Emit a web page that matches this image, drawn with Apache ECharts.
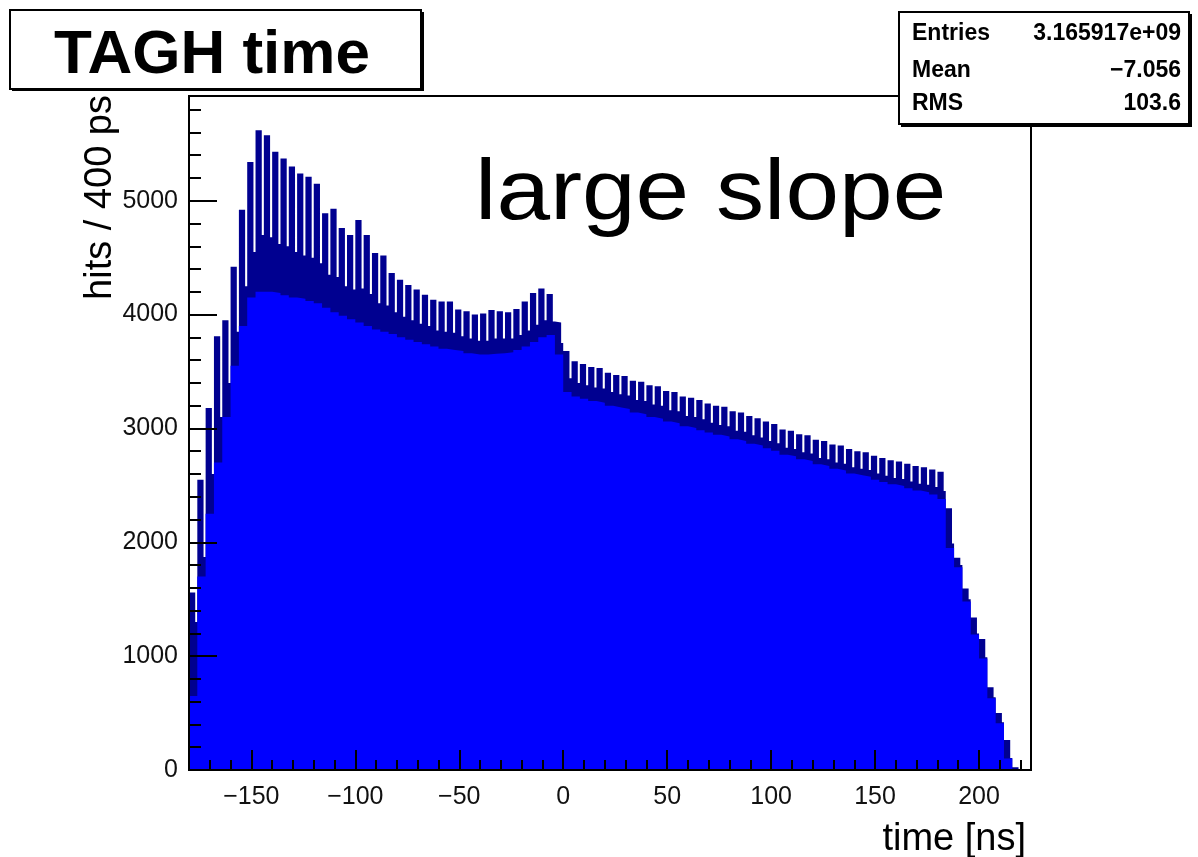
<!DOCTYPE html>
<html>
<head>
<meta charset="utf-8">
<script src="https://cdn.jsdelivr.net/npm/echarts/dist/echarts.min.js"></script>
<style>
  html, body { margin: 0; padding: 0; background: #fff; }
  #main { width: 1198px; height: 857px; }
</style>
</head>
<body>
<div id="main"></div>
<script>
// histogram, one entry per 4 ns bunch period starting at -180 ns
// peak = top of the dark spike, dip = bottom of the white gap, base = top of the light fill
var startTime = -180;
var period = 4;
var gapWidth = 1;

var peak = [1560, 2550, 3180, 3810, 3950, 4420, 4920, 5340, 5620, 5575,
	5430, 5370, 5300, 5240, 5210, 5150, 4890, 4930, 4760, 4700,
	4830, 4700, 4540, 4520, 4365, 4305, 4260, 4220, 4175, 4130,
	4115, 4115, 4045, 4030, 4000, 4010, 4040, 4030, 4020, 4050,
	4115, 4190, 4230, 4180, 3930, 3680, 3590, 3565, 3540, 3530,
	3490, 3470, 3460, 3420, 3410, 3380, 3370, 3330, 3320, 3280,
	3270, 3250, 3220, 3200, 3190, 3150, 3140, 3110, 3090, 3060,
	3040, 2990, 2980, 2950, 2940, 2900, 2890, 2860, 2850, 2820,
	2800, 2790, 2760, 2740, 2720, 2710, 2690, 2670, 2660, 2640,
	2620, 2300, 1865, 1594, 1340, 1150, 727, 500, 263, 25];

var dip = [1300, 1870, 2600, 3100, 3400, 3850, 4250, 4550, 4700, 4680,
	4620, 4600, 4550, 4520, 4500, 4450, 4350, 4330, 4250, 4220,
	4230, 4180, 4100, 4080, 4020, 3980, 3950, 3920, 3900, 3860,
	3850, 3840, 3810, 3790, 3770, 3770, 3790, 3790, 3790, 3820,
	3860, 3910, 3950, 3940, 3750, 3440, 3400, 3380, 3360, 3350,
	3320, 3300, 3290, 3250, 3240, 3210, 3200, 3160, 3150, 3110,
	3100, 3080, 3050, 3030, 3020, 2980, 2970, 2940, 2920, 2890,
	2870, 2830, 2820, 2790, 2780, 2740, 2730, 2700, 2690, 2660,
	2645, 2635, 2605, 2585, 2565, 2555, 2535, 2515, 2505, 2485,
	2450, 1990, 1800, 1500, 1200, 990, 640, 420, 105, 0];

var base = [650, 1700, 2250, 2700, 3100, 3550, 3900, 4150, 4200, 4200,
	4190, 4170, 4150, 4140, 4120, 4100, 4060, 4020, 3990, 3960,
	3930, 3900, 3870, 3850, 3830, 3800, 3780, 3760, 3740, 3720,
	3700, 3690, 3680, 3660, 3650, 3650, 3655, 3660, 3670, 3690,
	3720, 3760, 3800, 3820, 3650, 3320, 3280, 3260, 3240, 3225,
	3200, 3185, 3170, 3140, 3125, 3100, 3085, 3060, 3045, 3020,
	3005, 2985, 2965, 2945, 2930, 2905, 2890, 2865, 2850, 2825,
	2805, 2770, 2755, 2730, 2715, 2685, 2670, 2645, 2630, 2605,
	2590, 2575, 2550, 2530, 2510, 2495, 2475, 2455, 2440, 2420,
	2380, 1950, 1780, 1480, 1190, 980, 630, 410, 100, 0];

var xMajor = [-150, -100, -50, 0, 50, 100, 150, 200];
var xMinor = [-170, -160, -140, -130, -120, -110, -90, -80, -70, -60,
	-40, -30, -20, -10, 10, 20, 30, 40, 60, 70, 80, 90,
	110, 120, 130, 140, 160, 170, 180, 190, 210, 220];
var yMajor = [0, 1000, 2000, 3000, 4000, 5000];
var yMinor = [200, 400, 600, 800, 1200, 1400, 1600, 1800, 2200, 2400, 2600, 2800,
	3200, 3400, 3600, 3800, 4200, 4400, 4600, 4800, 5200, 5400, 5600, 5800];

var stats = [
	[ 'Entries', '3.165917e+09' ],
	[ 'Mean', '\u22127.056' ],
	[ 'RMS', '103.6' ]
];

var font = '"Liberation Sans", Arial, Helvetica, sans-serif';
var navy = '#000090';
var blue = '#0000ff';

function combData() {
	var out = [];
	for (var k = 0; k < peak.length; k++) {
		var t = startTime + period * k;
		out.push([ t, peak[k] ]);
		out.push([ t + period - gapWidth, dip[k] ]);
	}
	out.push([ startTime + period * peak.length, 0 ]);
	return out;
}

function baseData() {
	var out = [];
	for (var k = 0; k < base.length; k++) {
		out.push([ startTime + period * k, base[k] ]);
	}
	out.push([ startTime + period * base.length, 0 ]);
	return out;
}

function statsText() {
	var els = [];
	var rowY = [ 34, 71, 104 ];
	for (var i = 0; i < stats.length; i++) {
		els.push({
			type : 'text', x : 912, y : rowY[i], z : 101,
			style : { text : stats[i][0], fill : '#000', fontFamily : font, fontSize : 23,
				fontWeight : 'bold', align : 'left', verticalAlign : 'middle' }
		});
		els.push({
			type : 'text', x : 1181, y : rowY[i], z : 101,
			style : { text : stats[i][1], fill : '#000', fontFamily : font, fontSize : 23,
				fontWeight : 'bold', align : 'right', verticalAlign : 'middle' }
		});
	}
	return els;
}

function tickAxis(min, max, values, len, dir) {
	// extra axis that only carries the short minor ticks
	var ax = {
		type : 'value',
		min : min,
		max : max,
		z : 10,
		axisLine : { show : false, onZero : false },
		axisTick : { show : true, inside : true, length : len, customValues : values,
			lineStyle : { color : '#000', width : 2 } },
		axisLabel : { show : false },
		splitLine : { show : false }
	};
	ax.position = dir;
	return ax;
}

var chart = echarts.init(document.getElementById('main'));

var option = {
	animation : false,
	backgroundColor : '#fff',
	grid : {
		left : 189,
		right : 167,
		top : 96,
		bottom : 87,
		show : true,
		borderColor : '#000',
		borderWidth : 2
	},
	xAxis : [ {
		type : 'value',
		min : -180,
		max : 225,
		position : 'bottom',
		z : 10,
		axisLine : { show : true, onZero : false, lineStyle : { color : '#000', width : 2 } },
		axisTick : { show : true, inside : true, length : 20, customValues : xMajor,
			lineStyle : { color : '#000', width : 2 } },
		axisLabel : {
			customValues : xMajor,
			margin : 15,
			color : '#111',
			fontFamily : font,
			fontSize : 25,
			formatter : function(v) {
				return String(v).replace('-', '\u2212');
			}
		},
		splitLine : { show : false }
	}, tickAxis(-180, 225, xMinor, 10, 'bottom') ],
	yAxis : [ {
		type : 'value',
		min : 0,
		max : 5920,
		position : 'left',
		z : 10,
		axisLine : { show : true, onZero : false, lineStyle : { color : '#000', width : 2 } },
		axisTick : { show : true, inside : true, length : 28, customValues : yMajor,
			lineStyle : { color : '#000', width : 2 } },
		axisLabel : {
			customValues : yMajor,
			margin : 11,
			color : '#111',
			fontFamily : font,
			fontSize : 25,
			formatter : function(v) {
				return String(v);
			}
		},
		splitLine : { show : false }
	}, tickAxis(0, 5920, yMinor, 12, 'left') ],
	series : [ {
		type : 'line',
		name : 'comb',
		step : 'end',
		symbol : 'none',
		data : combData(),
		lineStyle : { width : 0, color : navy },
		areaStyle : { color : navy, opacity : 1 },
		z : 2
	}, {
		type : 'line',
		name : 'fill',
		step : 'end',
		symbol : 'none',
		data : baseData(),
		lineStyle : { width : 0, color : blue },
		areaStyle : { color : blue, opacity : 1 },
		z : 3
	} ],
	graphic : [ {
		type : 'polyline', z : 99,
		shape : { points : [ [ 12, 90 ], [ 423, 90 ], [ 423, 12 ] ] },
		style : { stroke : '#000', lineWidth : 2, fill : null }
	}, {
		type : 'rect', z : 100,
		shape : { x : 10, y : 10, width : 411, height : 79 },
		style : { fill : '#fff', stroke : '#000', lineWidth : 2 }
	}, {
		type : 'text', x : 212, y : 56, z : 101,
		style : { text : 'TAGH time', fill : '#000', fontFamily : font, fontSize : 62,
			fontWeight : 'bold', align : 'center', verticalAlign : 'middle' }
	}, {
		type : 'polyline', z : 99,
		shape : { points : [ [ 901, 126 ], [ 1191, 126 ], [ 1191, 14 ] ] },
		style : { stroke : '#000', lineWidth : 2, fill : null }
	}, {
		type : 'rect', z : 100,
		shape : { x : 899, y : 12, width : 290, height : 112 },
		style : { fill : '#fff', stroke : '#000', lineWidth : 2 }
	}, {
		type : 'text', x : 475, y : 195, z : 101, scaleX : 1.12,
		style : { text : 'large slope', fill : '#000', fontFamily : font,
			fontSize : 86, align : 'left', verticalAlign : 'middle' }
	}, {
		type : 'text', x : 101, y : 95, z : 101, rotation : Math.PI / 2,
		style : { text : 'hits / 400 ps', fill : '#000', fontFamily : font, fontSize : 38,
			align : 'right', verticalAlign : 'middle' }
	}, {
		type : 'text', x : 1026, y : 840, z : 101,
		style : { text : 'time [ns]', fill : '#000', fontFamily : font, fontSize : 38,
			align : 'right', verticalAlign : 'middle' }
	} ].concat(statsText())
};

chart.setOption(option);

window.onresize = function() {
	chart.resize();
};
</script>
</body>
</html>
